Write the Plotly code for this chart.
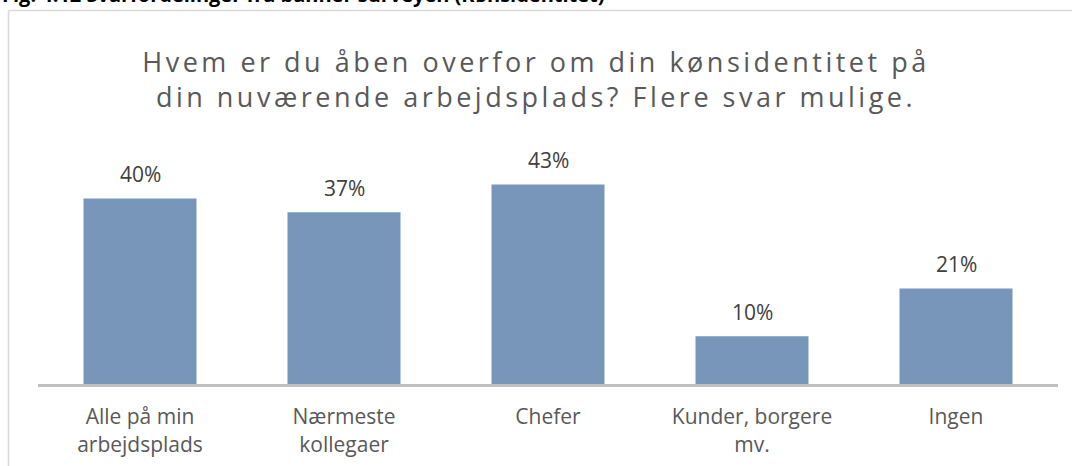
import plotly.graph_objects as go

categories = ["Alle på min<br>arbejdsplads", "Nærmeste<br>kollegaer", "Chefer", "Kunder, borgere<br>mv.", "Ingen"]
values = [40.0, 37.0, 43.0, 10.3, 20.6]
labels = [f"{round(v)}%" for v in values]

title_text = "Hvem er du åben overfor om din kønsidentitet på<br>din nuværende arbejdsplads? Flere svar mulige."
header_text = "Fig. 4.12 Svarfordelinger fra banner surveyen (Kønsidentitet)"

FONT = "Open Sans"
BAR = "#7895BA"

fig = go.Figure()
fig.add_trace(go.Bar(x=categories, y=values, marker=dict(color=BAR, line=dict(width=0)),
                     hoverinfo="skip"))

annotations = []
for c, v, t in zip(categories, values, labels):
    annotations.append(dict(x=c, y=v, xref="x", yref="y", text=t, showarrow=False,
                            yanchor="middle", yshift=24,
                            font=dict(family=FONT, size=21, color="#404040")))

# cut-off header above chart
annotations.append(dict(x=-0.037, y=1.681, xref="paper", yref="paper", text=f"<b>{header_text}</b>",
                        showarrow=False, xanchor="left", yanchor="middle",
                        font=dict(family=FONT, size=20, color="#000000")))

fig.update_layout(
    width=1072, height=466,
    margin=dict(l=38, r=14, t=152, b=82, autoexpand=False),
    paper_bgcolor="white", plot_bgcolor="white",
    bargap=0.446,
    showlegend=False,
    title=dict(text=title_text, x=0.5, xanchor="center", y=0.845, yanchor="middle",
               automargin=False,
               font=dict(family=FONT, size=27, color="#595959")),
    xaxis=dict(showgrid=False, zeroline=False, showline=True, linecolor="#BFBFBF", linewidth=3,
               ticks="", ticklabelstandoff=12, automargin=False,
               tickfont=dict(family=FONT, size=21, color="#595959")),
    yaxis=dict(range=[0, 50], showgrid=False, zeroline=False, showline=False,
               showticklabels=False, ticks="", automargin=False),
    annotations=annotations,
    shapes=[
        dict(type="line", xref="paper", yref="paper", x0=(8.5 - 38) / 1020, x1=1.2,
             y0=(384 - 10.5) / 232, y1=(384 - 10.5) / 232, line=dict(color="#D9D9D9", width=1.5)),
        dict(type="line", xref="paper", yref="paper", x0=(8.5 - 38) / 1020, x1=(8.5 - 38) / 1020,
             y0=(384 - 10.5) / 232, y1=-1, line=dict(color="#D9D9D9", width=1.5)),
    ],
)

post = """
document.body.style.margin = '0';
document.body.style.overflow = 'hidden';
var gd = document.getElementById('{plot_id}');
gd.querySelectorAll('.gtitle').forEach(function(e){ e.style.letterSpacing = '3.5px'; });
"""

fig.write_html("out.html", post_script=post, config={"displayModeBar": False})
